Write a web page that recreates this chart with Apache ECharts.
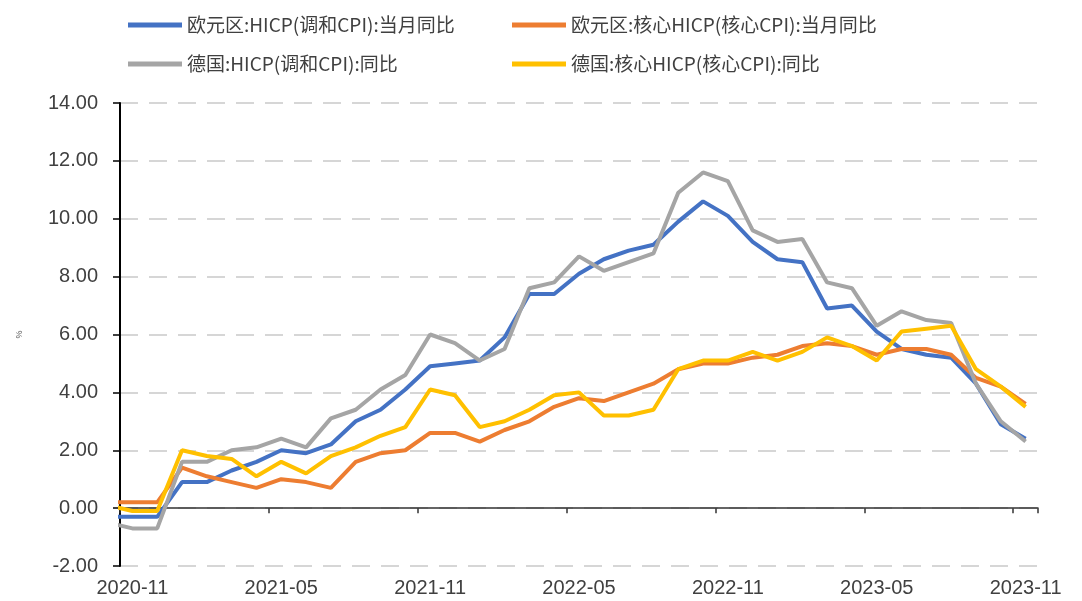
<!DOCTYPE html>
<html>
<head>
<meta charset="utf-8">
<title>HICP</title>
<script src="https://cdn.jsdelivr.net/npm/echarts@6/dist/echarts.min.js"></script>
<style>
    html, body { margin: 0; padding: 0; background: #fff; }
    #mainChart { width: 1082px; height: 601px; }
</style>
</head>
<body>
<div id="mainChart"></div>
<script>
// months from 2020-10 (only its stub shows, clipped by the axis) to 2023-11
const months = [
    '2020-10', '2020-11', '2020-12',
    '2021-01', '2021-02', '2021-03', '2021-04', '2021-05', '2021-06',
    '2021-07', '2021-08', '2021-09', '2021-10', '2021-11', '2021-12',
    '2022-01', '2022-02', '2022-03', '2022-04', '2022-05', '2022-06',
    '2022-07', '2022-08', '2022-09', '2022-10', '2022-11', '2022-12',
    '2023-01', '2023-02', '2023-03', '2023-04', '2023-05', '2023-06',
    '2023-07', '2023-08', '2023-09', '2023-10', '2023-11'
];

const euroHicp = [
    -0.3, -0.3, -0.3,
    0.9, 0.9, 1.3, 1.6, 2.0, 1.9,
    2.2, 3.0, 3.4, 4.1, 4.9, 5.0,
    5.1, 5.9, 7.4, 7.4, 8.1, 8.6,
    8.9, 9.1, 9.9, 10.6, 10.1, 9.2,
    8.6, 8.5, 6.9, 7.0, 6.1, 5.5,
    5.3, 5.2, 4.3, 2.9, 2.4
];

const euroCore = [
    0.2, 0.2, 0.2,
    1.4, 1.1, 0.9, 0.7, 1.0, 0.9,
    0.7, 1.6, 1.9, 2.0, 2.6, 2.6,
    2.3, 2.7, 3.0, 3.5, 3.8, 3.7,
    4.0, 4.3, 4.8, 5.0, 5.0, 5.2,
    5.3, 5.6, 5.7, 5.6, 5.3, 5.5,
    5.5, 5.3, 4.5, 4.2, 3.6
];

const germanyHicp = [
    -0.5, -0.7, -0.7,
    1.6, 1.6, 2.0, 2.1, 2.4, 2.1,
    3.1, 3.4, 4.1, 4.6, 6.0, 5.7,
    5.1, 5.5, 7.6, 7.8, 8.7, 8.2,
    8.5, 8.8, 10.9, 11.6, 11.3, 9.6,
    9.2, 9.3, 7.8, 7.6, 6.3, 6.8,
    6.5, 6.4, 4.3, 3.0, 2.3
];

const germanyCore = [
    0.1, -0.1, -0.1,
    2.0, 1.8, 1.7, 1.1, 1.6, 1.2,
    1.8, 2.1, 2.5, 2.8, 4.1, 3.9,
    2.8, 3.0, 3.4, 3.9, 4.0, 3.2,
    3.2, 3.4, 4.8, 5.1, 5.1, 5.4,
    5.1, 5.4, 5.9, 5.6, 5.1, 6.1,
    6.2, 6.3, 4.8, 4.2, 3.5
];

const seriesNames = [
    '欧元区:HICP(调和CPI):当月同比',
    '欧元区:核心HICP(核心CPI):当月同比',
    '德国:HICP(调和CPI):同比',
    '德国:核心HICP(核心CPI):同比'
];

// a label and a tick every 6 months, starting at 2020-11
function everySixMonths(index) {
    return index >= 1 && (index - 1) % 6 === 0;
}

function initHicpChart() {
    let mainChart = echarts.init(document.getElementById('mainChart'));
    let legendText = {
        fontFamily: 'Noto Sans CJK SC',
        fontSize: 19,
        lineHeight: 20,
        color: '#404040'
    };
    let lineSeries = function (name, data, color) {
        return {
            name: name,
            type: 'line',
            data: data,
            xAxisIndex: 0,
            showSymbol: false,
            symbol: 'none',
            clip: true,
            color: color,
            lineStyle: {
                width: 4,
                color: color
            }
        };
    };
    let mainChartOption = {
        animation: false,
        backgroundColor: '#ffffff',
        legend: [
            {
                orient: 'vertical',
                left: 123,
                top: 10,
                icon: 'rect',
                itemWidth: 54,
                itemHeight: 5,
                itemGap: 19,
                textStyle: legendText,
                data: [seriesNames[0], seriesNames[2]]
            },
            {
                orient: 'vertical',
                left: 507,
                top: 10,
                icon: 'rect',
                itemWidth: 54,
                itemHeight: 5,
                itemGap: 19,
                textStyle: legendText,
                data: [seriesNames[1], seriesNames[3]]
            }
        ],
        grid: {
            left: 120,
            right: 44,
            top: 103,
            bottom: 35,
            containLabel: false
        },
        xAxis: [
            {
                type: 'category',
                data: months,
                min: 1,
                boundaryGap: true,
                position: 'bottom',
                axisLine: { show: false, onZero: false },
                axisTick: { show: false },
                axisLabel: {
                    interval: everySixMonths,
                    margin: 12,
                    fontFamily: 'Liberation Sans',
                    fontSize: 20,
                    color: '#404040'
                },
                splitLine: { show: false }
            },
            {
                type: 'category',
                data: months,
                min: 1,
                boundaryGap: true,
                position: 'bottom',
                axisLine: {
                    show: true,
                    onZero: true,
                    lineStyle: { color: '#333333', width: 1.5 }
                },
                axisTick: {
                    show: true,
                    interval: everySixMonths,
                    length: 5,
                    lineStyle: { color: '#333333', width: 1.5 }
                },
                axisLabel: { show: false },
                splitLine: { show: false }
            }
        ],
        yAxis: {
            type: 'value',
            min: -2,
            max: 14,
            interval: 2,
            name: '%',
            nameLocation: 'middle',
            nameRotate: 90,
            nameGap: 96,
            nameTextStyle: {
                fontSize: 9,
                color: '#595959'
            },
            axisLine: {
                show: true,
                onZero: false,
                lineStyle: { color: '#000000', width: 2 }
            },
            axisTick: {
                show: true,
                length: 7,
                lineStyle: { color: '#000000', width: 1.5 }
            },
            axisLabel: {
                margin: 22,
                fontFamily: 'Liberation Sans',
                fontSize: 20,
                color: '#404040',
                formatter: function (value) {
                    return value.toFixed(2);
                }
            },
            splitLine: {
                show: true,
                lineStyle: {
                    color: '#d6d6d6',
                    width: 2,
                    type: [18, 11]
                }
            }
        },
        series: [
            lineSeries(seriesNames[0], euroHicp, '#4472C4'),
            lineSeries(seriesNames[1], euroCore, '#ED7D31'),
            lineSeries(seriesNames[2], germanyHicp, '#A5A5A5'),
            lineSeries(seriesNames[3], germanyCore, '#FFC000')
        ]
    };
    mainChart.setOption(mainChartOption);
}

initHicpChart();
</script>
</body>
</html>
